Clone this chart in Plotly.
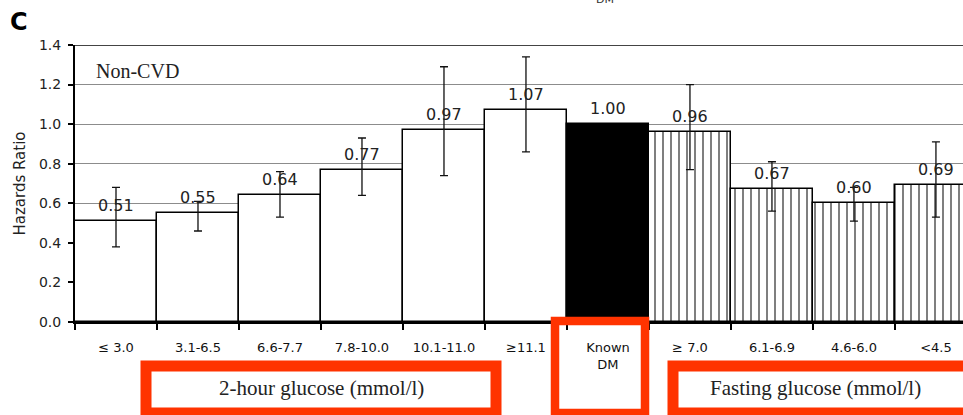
import plotly.graph_objects as go

# Hazard ratios (non-CVD deaths) by glucose category, with 95% CI
categories = ["≤ 3.0", "3.1-6.5", "6.6-7.7", "7.8-10.0", "10.1-11.0", "≥11.1",
              "Known<br>DM", "≥ 7.0", "6.1-6.9", "4.6-6.0", "<4.5"]
hr = [0.51, 0.55, 0.64, 0.77, 0.97, 1.07, 1.00, 0.96, 0.67, 0.60, 0.69]
ci_low = [0.38, 0.46, 0.53, 0.64, 0.74, 0.86, None, 0.77, 0.56, 0.51, 0.53]
ci_high = [0.68, 0.61, 0.76, 0.93, 1.29, 1.34, None, 1.20, 0.81, 0.68, 0.91]
y_ticks = [0.0, 0.2, 0.4, 0.6, 0.8, 1.0, 1.2, 1.4]

two_hour = list(range(0, 6))
known_dm = [6]
fasting = list(range(7, 11))

W, H = 963, 415
ML, MR, MT, MB = 75, 0, 45, 93
PW, PH = W - ML - MR, H - MT - MB

SANS = "DejaVu Sans"
SERIF = "Liberation Serif"
RED = "#ff3300"


def px_x(px):
    return (px - ML) / PW


def px_y(py):
    return (H - MB - py) / PH


def bar_trace(idx, fill, pattern=None, with_err=True):
    kw = dict(
        x=[categories[i] for i in idx],
        y=[hr[i] for i in idx],
        width=1,
        marker=dict(color=fill, line=dict(color="black", width=1.5)),
        showlegend=False,
        hoverinfo="skip",
    )
    if pattern:
        kw["marker"]["pattern"] = pattern
    if with_err:
        kw["error_y"] = dict(
            type="data", symmetric=False,
            array=[ci_high[i] - hr[i] for i in idx],
            arrayminus=[hr[i] - ci_low[i] for i in idx],
            color="#111", thickness=1.3, width=4,
        )
    return go.Bar(**kw)


fig = go.Figure()
fig.add_trace(bar_trace(two_hour, "white"))
fig.add_trace(bar_trace(known_dm, "black", with_err=False))
fig.add_trace(bar_trace(fasting, "white",
                        pattern=dict(shape="|", size=8, solidity=0.25,
                                     fgcolor="black", bgcolor="white")))

# value labels above each bar
for i, v in enumerate(hr):
    fig.add_annotation(x=categories[i], y=v, text=f"{v:.2f}", showarrow=False,
                       yanchor="bottom", yshift=4,
                       font=dict(family=SANS, size=16, color="#222"))

# panel letter, series caption and stray heading fragment
fig.add_annotation(xref="paper", yref="paper", x=px_x(8), y=px_y(22), text="<b>C</b>",
                   showarrow=False, xanchor="left", yanchor="middle",
                   font=dict(family=SANS, size=24, color="black"))
fig.add_annotation(xref="paper", yref="paper", x=px_x(94), y=px_y(71), text="Non-CVD",
                   showarrow=False, xanchor="left", yanchor="middle",
                   font=dict(family=SERIF, size=20, color="#222"))
fig.add_annotation(xref="paper", yref="paper", x=px_x(605), y=px_y(8), text="DM",
                   showarrow=False, xanchor="center", yanchor="bottom",
                   font=dict(family=SANS, size=11, color="#333"))

# group captions in red frames
boxes = [(146, 366, 496, 413, 11), (555, 321, 645, 413, 8.5), (673, 366, 980, 413, 11)]
for x0, y0, x1, y1, lw in boxes:
    fig.add_shape(type="rect", xref="paper", yref="paper",
                  x0=px_x(x0), x1=px_x(x1), y0=px_y(y0), y1=px_y(y1),
                  line=dict(color=RED, width=lw), fillcolor="rgba(0,0,0,0)")
fig.add_annotation(xref="paper", yref="paper", x=px_x(321), y=px_y(388),
                   xanchor="center", yanchor="middle",
                   text="2-hour glucose (mmol/l)", showarrow=False,
                   font=dict(family=SERIF, size=21, color="#222"))
fig.add_annotation(xref="paper", yref="paper", x=px_x(815), y=px_y(388),
                   xanchor="center", yanchor="middle",
                   text="Fasting glucose (mmol/l)", showarrow=False,
                   font=dict(family=SERIF, size=21, color="#222"))

# darker top rule at 1.4
fig.add_shape(type="line", xref="paper", yref="y", x0=0, x1=1, y0=1.4, y1=1.4,
              line=dict(color="#444", width=2), layer="below")

fig.update_layout(
    width=W, height=H,
    margin=dict(l=ML, r=MR, t=MT, b=MB, pad=0),
    paper_bgcolor="white", plot_bgcolor="white",
    barmode="overlay", bargap=0,
    xaxis=dict(
        type="category", categoryorder="array", categoryarray=categories,
        range=[-0.5, 10.33], tickson="boundaries",
        ticks="outside", ticklen=6, tickwidth=1.5, tickcolor="black",
        showline=True, linecolor="black", linewidth=2,
        showgrid=False, ticklabelstandoff=12,
        tickfont=dict(family=SANS, size=13, color="#111"),
    ),
    yaxis=dict(
        range=[0, 1.4], tickvals=y_ticks, ticktext=[f"{t:.1f}" for t in y_ticks],
        ticks="outside", ticklen=5, tickwidth=1.5, tickcolor="black",
        showline=True, linecolor="black", linewidth=2,
        showgrid=True, gridcolor="#8c8c8c", gridwidth=1, zeroline=False,
        ticklabelstandoff=4,
        tickfont=dict(family=SANS, size=14, color="#222"),
        title=dict(text="Hazards Ratio", standoff=10,
                   font=dict(family=SANS, size=15, color="#222")),
    ),
)

fig.write_html("out.html")
